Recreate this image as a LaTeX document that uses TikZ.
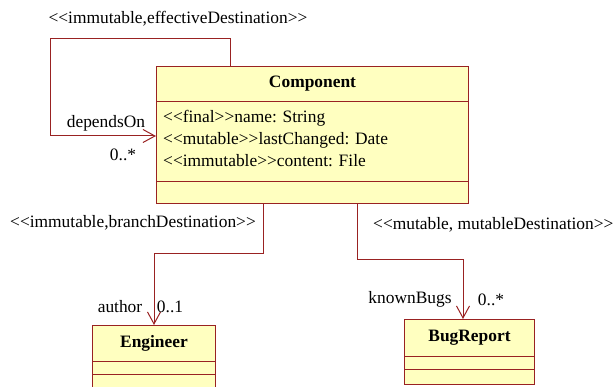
\documentclass[tikz,border=0pt]{standalone}
\usepackage{fontspec}
\setmainfont{Liberation Serif}
\newfontfamily\umlfont{Liberation Serif}
\usetikzlibrary{arrows.meta}

\definecolor{umlred}{RGB}{153,34,34}
\definecolor{umlfill}{RGB}{255,255,192}

\tikzset{
	classpart/.style={draw=umlred, fill=umlfill, line width=1pt, inner sep=0pt, anchor=north west},
	assoc/.style={draw=umlred, line width=1pt, -{Straight Barb[length=12pt,width=13pt,line width=1pt]}},
	lbl/.style={inner sep=0pt, font=\umlfont\fontsize{17.4}{20}\selectfont},
	cname/.style={font=\umlfont\fontsize{17.4}{20}\selectfont\bfseries}
}

\begin{document}
\begin{tikzpicture}[x=1pt,y=-1pt]
	\useasboundingbox (0,0) rectangle (616,387);
	\clip (0,0) rectangle (616,387);
	%class Component
		\node[classpart, minimum width=312pt, minimum height=35pt] (cname) at (156,66) {};
		\node[cname] (cnametext) at (cname.center) {Component};
		\node[classpart, minimum width=312pt, minimum height=80pt] (cattr) at (156,101) {};
		\node[lbl, anchor=north west, align=left, font=\umlfont\fontsize{17.4}{22}\selectfont] (cattrtext) at (163,110) {%
			<{}<final>{}>name: String\\
			<{}<mutable>{}>lastChanged: Date\\
			<{}<immutable>{}>content: File};
		\node[classpart, minimum width=312pt, minimum height=22pt] (cops) at (156,181) {};
	%class Engineer
		\node[classpart, minimum width=123pt, minimum height=36pt] (ename) at (92,325) {};
		\node[cname] (enametext) at (ename.center) {Engineer};
		\node[classpart, minimum width=123pt, minimum height=13pt] (eattr) at (92,361) {};
		\node[classpart, minimum width=123pt, minimum height=16pt] (eops) at (92,374) {};
	%class BugReport
		\node[classpart, minimum width=130pt, minimum height=37pt] (bname) at (404,319) {};
		\node[cname] (bnametext) at (bname.center) {BugReport};
		\node[classpart, minimum width=130pt, minimum height=13pt] (battr) at (404,356) {};
		\node[classpart, minimum width=130pt, minimum height=15pt] (bops) at (404,369) {};
	%self association dependsOn
		\coordinate (loopa) at (230,39);
		\coordinate (loopb) at (50,136);
		\draw[assoc] (cname.north -| loopa) -- (loopa) -| (loopb) -- (loopb -| cattr.west);
		\node[lbl] (selfst) at (178,19) {<{}<immutable,effectiveDestination>{}>};
		\node[lbl] (selfrole) at (106,123) {dependsOn};
		\node[lbl] (selfmult) at (123,155) {0..*};
	%association author
		\coordinate (engbend) at (263,254);
		\draw[assoc] (cops.south -| engbend) -- (engbend) -| (ename.north);
		\node[lbl] (engst) at (133,223) {<{}<immutable,branchDestination>{}>};
		\node[lbl] (engrole) at (120,307) {author};
		\node[lbl] (engmult) at (170,307) {0..1};
	%association knownBugs
		\coordinate (bugbend) at (357,260);
		\coordinate (bugend) at (463,319);
		\draw[assoc] (cops.south -| bugbend) -- (bugbend) -| (bugend);
		\node[lbl, anchor=west] (bugst) at (373,225) {<{}<mutable, mutableDestination>{}>};
		\node[lbl] (bugrole) at (410,299) {knownBugs};
		\node[lbl] (bugmult) at (491,300) {0..*};
\end{tikzpicture}
\end{document}
